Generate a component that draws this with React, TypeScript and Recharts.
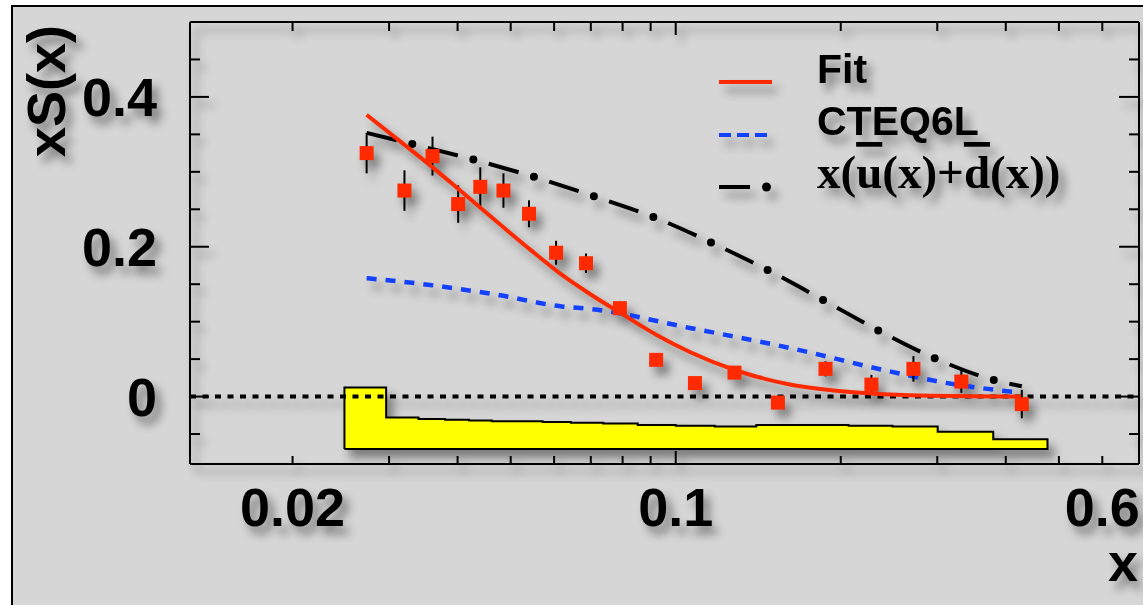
import React from 'react';
import {
  ComposedChart,
  Line,
  Area,
  Scatter,
  ErrorBar,
  XAxis,
  YAxis,
  ReferenceLine,
  Legend
} from 'recharts';

// measured points: x, xS(x), stat. error
const POINT_X = [0.0273, 0.032, 0.036, 0.0401, 0.044, 0.0485, 0.054, 0.0605, 0.0686, 0.0791, 0.0921, 0.1084, 0.128, 0.1536, 0.1876, 0.2275, 0.2714, 0.3319, 0.4279];
const POINT_Y = [0.325, 0.275, 0.321, 0.257, 0.28, 0.275, 0.244, 0.192, 0.178, 0.118, 0.049, 0.018, 0.032, -0.008, 0.037, 0.016, 0.037, 0.02, -0.01];
const POINT_ERR = [0.027, 0.027, 0.026, 0.025, 0.026, 0.023, 0.018, 0.016, 0.013, 0.009, 0.006, 0.006, 0.006, 0.006, 0.01, 0.013, 0.017, 0.015, 0.019];

// fit curve
const FIT_X = [0.0273, 0.03139, 0.03561, 0.0409, 0.04778, 0.0542, 0.06149, 0.06975, 0.0791, 0.09231, 0.1061, 0.1281, 0.1614, 0.2138, 0.2674, 0.4264];
const FIT_Y = [0.376, 0.341, 0.309, 0.272, 0.23, 0.1965, 0.1644, 0.1369, 0.112, 0.0822, 0.0595, 0.0355, 0.0162, 0.0055, 0.0017, 0.0];

// CTEQ6L
const CTEQ_X = [0.0273, 0.0356, 0.0471, 0.0623, 0.0697, 0.1061, 0.1613, 0.2455, 0.3112, 0.4273];
const CTEQ_Y = [0.158, 0.149, 0.136, 0.12, 0.117, 0.0916, 0.065, 0.0337, 0.0183, 0.005];

// x(ubar + dbar)
const SEA_X = [0.0273, 0.0331, 0.0429, 0.0553, 0.0712, 0.0916, 0.1166, 0.148, 0.1868, 0.236, 0.2992, 0.3838, 0.4279];
const SEA_Y = [0.352, 0.337, 0.316, 0.293, 0.267, 0.239, 0.205, 0.168, 0.128, 0.087, 0.05, 0.0213, 0.0137];

// systematic error band (bin edges + heights)
const SYS_EDGES = [0.02487, 0.02963, 0.03394, 0.03795, 0.04198, 0.04617, 0.05112, 0.05718, 0.06437, 0.07373, 0.08524, 0.1, 0.1178, 0.1403, 0.1703, 0.2066, 0.2485, 0.3005, 0.3795, 0.4766];
const SYS_VALUES = [0.012, -0.028, -0.03, -0.031, -0.032, -0.033, -0.033, -0.034, -0.035, -0.036, -0.038, -0.039, -0.04, -0.038, -0.038, -0.039, -0.04, -0.047, -0.057];
const SYS_BASE = -0.07;

const X_TICKS = [0.02, 0.03, 0.04, 0.05, 0.06, 0.07, 0.08, 0.09, 0.1, 0.2, 0.3, 0.4, 0.5, 0.6];
const X_LABELED = [0.02, 0.1, 0.6];
const X_MAJOR = [0.1];
const Y_TICKS = [-0.05, 0, 0.05, 0.1, 0.15, 0.2, 0.25, 0.3, 0.35, 0.4, 0.45];
const Y_LABELED = [0, 0.2, 0.4];

const RED = '#ff2a00';
const BLUE = '#1440ff';
const FONT = '"Liberation Sans", Arial, Helvetica, sans-serif';
const SERIF = '"Liberation Serif", "Times New Roman", serif';

const points = POINT_X.map((x, i) => ({ x, y: POINT_Y[i], err: POINT_ERR[i] }));
const fit = FIT_X.map((x, i) => ({ x, y: FIT_Y[i] }));
const cteq = CTEQ_X.map((x, i) => ({ x, y: CTEQ_Y[i] }));
const sea = SEA_X.map((x, i) => ({ x, y: SEA_Y[i] }));

const lastEdge = SYS_EDGES[SYS_EDGES.length - 1];
const sysArea = [
  ...SYS_VALUES.map((v, i) => ({ x: SYS_EDGES[i], y: v })),
  { x: lastEdge, y: SYS_VALUES[SYS_VALUES.length - 1] }
];
const sysOutline: { x: number; y: number }[] = [{ x: SYS_EDGES[0], y: SYS_BASE }];
SYS_VALUES.forEach((v, i) => {
  sysOutline.push({ x: SYS_EDGES[i], y: v });
  sysOutline.push({ x: SYS_EDGES[i + 1], y: v });
});
sysOutline.push({ x: lastEdge, y: SYS_BASE });
sysOutline.push({ x: SYS_EDGES[0], y: SYS_BASE });

const labelStyle = { fontFamily: FONT, fontWeight: 700, fontSize: 54, fill: '#000' };

const BottomTick = (props: any) => {
  const { x, y, payload } = props;
  const v = payload.value;
  const len = X_MAJOR.includes(v) ? 13 : 8;
  return (
    <g>
      <line x1={x} x2={x} y1={y} y2={y - len} stroke="#000" strokeWidth={2} />
      {X_LABELED.includes(v) && (
        <text x={x} y={y + 62} textAnchor="middle" {...labelStyle}>{String(v)}</text>
      )}
    </g>
  );
};

const TopTick = (props: any) => {
  const { x, y, payload } = props;
  const len = X_MAJOR.includes(payload.value) ? 13 : 9;
  return <line x1={x} x2={x} y1={y} y2={y + len} stroke="#000" strokeWidth={2} />;
};

const LeftTick = (props: any) => {
  const { x, y, payload } = props;
  const v = payload.value;
  const major = Y_LABELED.includes(v);
  return (
    <g>
      <line x1={x} x2={x + (major ? 19 : 10)} y1={y} y2={y} stroke="#000" strokeWidth={2} />
      {major && (
        <text x={x - 33} y={y} dy="0.36em" textAnchor="end" {...labelStyle}>{String(v)}</text>
      )}
    </g>
  );
};

const RightTick = (props: any) => {
  const { x, y, payload } = props;
  const len = Y_LABELED.includes(payload.value) ? 20 : 10;
  return <line x1={x} x2={x - len} y1={y} y2={y} stroke="#000" strokeWidth={2} />;
};

const renderLegend = () => (
  <svg width={400} height={180} style={{ overflow: 'visible', display: 'block' }}>
    <line x1={19} x2={72} y1={52} y2={52} stroke={RED} strokeWidth={4} />
    <text x={117} y={53} fontFamily={FONT} fontWeight={700} fontSize={41}>Fit</text>
    <line x1={19} x2={67} y1={105} y2={105} stroke={BLUE} strokeWidth={4} strokeDasharray="12 6" />
    <text x={117} y={105} fontFamily={FONT} fontWeight={700} fontSize={41}>CTEQ6L</text>
    <line x1={19} x2={50} y1={157} y2={157} stroke="#000" strokeWidth={4} />
    <circle cx={66.5} cy={157} r={4.5} fill="#000" />
    <text x={117} y={158} fontFamily={SERIF} fontWeight={700} fontSize={47}>
      x(<tspan style={{ textDecoration: 'overline' }}>u</tspan>(x)+<tspan style={{ textDecoration: 'overline' }}>d</tspan>(x))
    </text>
  </svg>
);

export default function App() {
  return (
    <div style={{ position: 'fixed', left: 0, top: 0, width: 1143, height: 605, background: '#fff', overflow: 'hidden' }}>
      <div
        style={{
          position: 'absolute',
          left: 11,
          top: 5,
          width: 1200,
          height: 700,
          background: '#d6d6d6',
          borderLeft: '2px solid #000',
          borderTop: '2px solid #000'
        }}
      />
      <div style={{ position: 'absolute', left: 0, top: 0, filter: 'drop-shadow(6px 8px 5px rgba(0,0,0,0.42))' }}>
        <ComposedChart width={1143} height={605} margin={{ top: 21, right: 3, bottom: 81, left: 0 }}>
          <XAxis
            xAxisId="b"
            dataKey="x"
            type="number"
            scale="log"
            domain={[0.013, 0.7]}
            allowDataOverflow
            ticks={X_TICKS}
            interval={0}
            height={60}
            tickSize={0}
            tickMargin={0}
            tickLine={false}
            tick={<BottomTick />}
            axisLine={{ stroke: '#000', strokeWidth: 2 }}
            label={{
              content: (p: any) => (
                <text x={p.viewBox.x + p.viewBox.width - 1} y={p.viewBox.y + 117} textAnchor="end" {...labelStyle}>x</text>
              )
            }}
          />
          <XAxis
            xAxisId="t"
            orientation="top"
            dataKey="x"
            type="number"
            scale="log"
            domain={[0.013, 0.7]}
            allowDataOverflow
            ticks={X_TICKS}
            interval={0}
            height={1}
            tickSize={0}
            tickMargin={0}
            tickLine={false}
            tick={<TopTick />}
            axisLine={{ stroke: '#000', strokeWidth: 2 }}
          />
          <YAxis
            yAxisId="l"
            type="number"
            domain={[-0.09, 0.5]}
            allowDataOverflow
            ticks={Y_TICKS}
            interval={0}
            width={190}
            tickSize={0}
            tickMargin={0}
            tickLine={false}
            tick={<LeftTick />}
            axisLine={{ stroke: '#000', strokeWidth: 2 }}
            label={{
              content: (p: any) => (
                <text transform={`translate(${p.viewBox.x + 65}, ${p.viewBox.y + 69}) rotate(-90)`} textAnchor="middle" {...labelStyle}>xS(x)</text>
              )
            }}
          />
          <YAxis
            yAxisId="r"
            orientation="right"
            type="number"
            domain={[-0.09, 0.5]}
            allowDataOverflow
            ticks={Y_TICKS}
            interval={0}
            width={1}
            tickSize={0}
            tickMargin={0}
            tickLine={false}
            tick={<RightTick />}
            axisLine={{ stroke: '#000', strokeWidth: 2 }}
          />
          <ReferenceLine xAxisId="b" yAxisId="l" y={0} stroke="#000" strokeWidth={4} strokeDasharray="6 6.5" />
          <Area
            xAxisId="b"
            yAxisId="l"
            data={sysArea}
            dataKey="y"
            type="stepAfter"
            baseValue={SYS_BASE}
            stroke="none"
            fill="#ffff00"
            fillOpacity={1}
            isAnimationActive={false}
            legendType="none"
          />
          <Line
            xAxisId="b"
            yAxisId="l"
            data={sysOutline}
            dataKey="y"
            type="linear"
            stroke="#000"
            strokeWidth={2}
            dot={false}
            activeDot={false}
            isAnimationActive={false}
            legendType="none"
          />
          <Line
            xAxisId="b"
            yAxisId="l"
            data={sea}
            dataKey="y"
            type="monotone"
            stroke="#000"
            strokeWidth={4}
            strokeDasharray="31 32"
            dot={false}
            activeDot={false}
            isAnimationActive={false}
          />
          <Line
            xAxisId="b"
            yAxisId="l"
            data={sea}
            dataKey="y"
            type="monotone"
            stroke="#000"
            strokeWidth={8}
            strokeLinecap="round"
            strokeDasharray="0 63"
            strokeDashoffset={16}
            dot={false}
            activeDot={false}
            isAnimationActive={false}
          />
          <Line
            xAxisId="b"
            yAxisId="l"
            data={cteq}
            dataKey="y"
            type="monotone"
            stroke={BLUE}
            strokeWidth={4.5}
            strokeDasharray="10 9"
            dot={false}
            activeDot={false}
            isAnimationActive={false}
          />
          <Scatter
            xAxisId="b"
            yAxisId="l"
            data={points}
            dataKey="y"
            isAnimationActive={false}
            shape={(p: any) => <rect x={p.cx - 7} y={p.cy - 7} width={14} height={14} fill={RED} />}
          >
            <ErrorBar dataKey="err" direction="y" width={0} stroke="#000" strokeWidth={2} />
          </Scatter>
          <Line
            xAxisId="b"
            yAxisId="l"
            data={fit}
            dataKey="y"
            type="monotone"
            stroke={RED}
            strokeWidth={4}
            dot={false}
            activeDot={false}
            isAnimationActive={false}
          />
          <Legend
            layout="vertical"
            align="center"
            verticalAlign="middle"
            content={renderLegend}
            wrapperStyle={{ left: 700, top: 30, width: 400, height: 180 }}
          />
        </ComposedChart>
      </div>
    </div>
  );
}
